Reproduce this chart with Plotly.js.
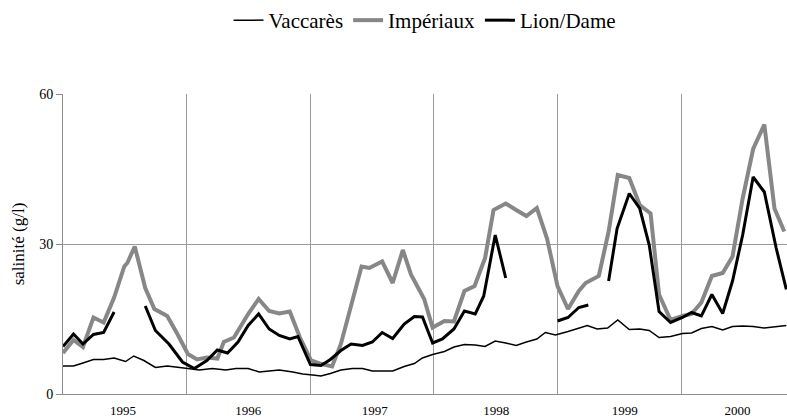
<!DOCTYPE html>
<html>
<head>
<meta charset="utf-8">
<script src="https://cdn.plot.ly/plotly-3.0.1.min.js"></script>
<style>html,body{margin:0;padding:0;background:#fff;}#chart{width:787px;height:420px;}</style>
</head>
<body>
<div id="chart"></div>
<script>
// Vaccarès
var vacDates = ['1995-01-01','1995-02-01','1995-03-01','1995-04-01','1995-05-01','1995-06-01','1995-07-05','1995-07-29','1995-08-28','1995-10-01','1995-11-05','1995-12-05',
  '1996-01-05','1996-02-08','1996-03-17','1996-04-26','1996-05-26','1996-07-01','1996-08-03','1996-09-01','1996-10-01','1996-11-10','1996-12-09',
  '1997-01-08','1997-02-01','1997-03-01','1997-04-01','1997-05-05','1997-06-04','1997-07-03','1997-08-01','1997-09-01','1997-10-05','1997-11-04','1997-11-28','1997-12-28',
  '1998-02-01','1998-03-01','1998-04-01','1998-05-03','1998-06-01','1998-07-01','1998-08-01','1998-09-01','1998-10-01','1998-11-01','1998-11-26','1998-12-26',
  '1999-02-01','1999-03-05','1999-03-30','1999-04-28','1999-05-29','1999-06-28','1999-08-01','1999-09-01','1999-09-29','1999-10-28','1999-12-01',
  '2000-01-05','2000-02-01','2000-03-01','2000-04-01','2000-05-03','2000-06-01','2000-07-01','2000-08-01','2000-09-03','2000-10-08','2000-11-07'];
var vacValues = [5.6,5.6,6.2,6.9,6.9,7.2,6.5,7.6,6.7,5.3,5.6,5.4,
  5.1,4.8,5.1,4.8,5.1,5.1,4.4,4.6,4.8,4.4,4.0,
  3.8,3.6,4.1,4.8,5.1,5.1,4.6,4.6,4.6,5.5,6.1,7.2,7.9,
  8.5,9.4,9.9,9.8,9.5,10.6,10.2,9.7,10.4,11.0,12.3,11.8,
  12.5,13.1,13.7,13.0,13.2,14.8,12.9,13.0,12.7,11.3,11.5,
  12.1,12.2,13.1,13.5,12.8,13.5,13.6,13.5,13.2,13.5,13.7];

// Impériaux
var impDates = ['1995-01-01','1995-02-01','1995-03-01','1995-04-01','1995-05-01','1995-06-01','1995-07-01','1995-07-10','1995-08-01','1995-09-01','1995-09-28','1995-11-05','1995-12-05',
  '1996-01-05','1996-02-01','1996-03-01','1996-04-01','1996-04-20','1996-05-20','1996-07-01','1996-08-01','1996-09-01','1996-10-01','1996-11-01','1996-12-01',
  '1997-01-03','1997-01-28','1997-03-06','1997-04-01','1997-05-01','1997-06-01','1997-06-24','1997-08-01','1997-09-01','1997-10-01','1997-10-25','1997-12-03','1997-12-28',
  '1998-02-01','1998-03-01','1998-04-01','1998-05-01','1998-06-01','1998-06-26','1998-08-01','1998-09-01','1998-10-01','1998-11-01','1998-12-01',
  '1999-01-01','1999-02-01','1999-03-05','1999-03-25','1999-05-03','1999-06-01','1999-06-28','1999-08-01','1999-09-01','1999-10-03','1999-10-28','1999-12-01',
  '2000-01-05','2000-02-01','2000-03-01','2000-04-01','2000-05-03','2000-06-01','2000-07-01','2000-08-01','2000-09-03','2000-10-03','2000-11-01'];
var impValues = [8.2,10.8,9.4,15.3,14.3,19.3,25.5,26.2,29.5,21.2,17.0,15.6,12.0,
  8.0,6.9,7.3,7.1,10.4,11.3,16.0,19.0,16.6,16.1,16.5,11.3,
  6.7,6.1,5.5,10.0,18.0,25.5,25.2,26.5,22.2,28.8,23.9,19.0,13.3,
  14.6,14.5,20.6,21.6,27.2,36.8,38.1,36.8,35.6,37.2,31.1,
  21.6,17.0,20.6,22.2,23.6,32.5,43.8,43.2,37.8,36.1,19.9,14.8,
  15.6,16.0,18.3,23.6,24.2,27.5,39.1,49.0,53.9,37.1,32.5];

// Lion/Dame (null = no measurement)
var lionDates = ['1995-01-01','1995-02-01','1995-03-01','1995-04-01','1995-05-01','1995-06-01','1995-07-15',
  '1995-09-01','1995-10-01','1995-11-10','1995-12-20',
  '1996-01-24','1996-03-01','1996-04-01','1996-05-01','1996-06-01','1996-07-01','1996-08-01','1996-09-01','1996-10-01','1996-11-01','1996-11-25',
  '1997-01-01','1997-02-01','1997-03-01','1997-04-01','1997-05-01','1997-06-04','1997-07-03','1997-08-01','1997-09-01','1997-10-05','1997-11-04','1997-11-28','1997-12-28',
  '1998-01-26','1998-03-01','1998-04-01','1998-05-03','1998-05-28','1998-07-01','1998-08-01','1998-10-15',
  '1999-01-01','1999-02-01','1999-03-05','1999-04-02','1999-05-01',
  '1999-06-01','1999-06-26','1999-08-01','1999-09-01','1999-09-29','1999-10-28','1999-12-01',
  '2000-01-05','2000-02-01','2000-03-01','2000-04-01','2000-05-03','2000-06-01','2000-07-01','2000-08-01','2000-09-03','2000-10-08','2000-11-07'];
var lionValues = [9.5,12.0,10.0,11.9,12.3,16.4,null,
  17.6,12.7,10.0,6.4,
  5.1,6.7,8.8,8.2,10.4,13.7,16.0,13.0,11.7,11.0,11.5,
  5.9,5.7,6.9,8.7,10.0,9.7,10.4,12.3,11.1,14.0,15.5,15.4,10.2,
  11.0,13.0,16.6,16.0,19.6,31.8,23.2,null,
  14.6,15.3,17.3,17.8,null,
  22.6,33.1,40.1,37.1,29.8,16.5,14.3,
  15.3,16.3,15.6,19.9,16.1,22.6,31.8,43.4,40.4,29.2,20.9];

var yearLabelPos = ['1995-06-27','1996-07-01','1997-07-10','1998-07-04','1999-07-19','2000-06-16'];
var yearLabels = ['1995','1996','1997','1998','1999','2000'];
var yearBounds = ['1996-01-01','1997-01-01','1998-01-01','1999-01-01','2000-01-01'];

var serif = 'Liberation Serif, Times New Roman, serif';

var traces = [
  {x: vacDates, y: vacValues, type: 'scatter', mode: 'lines', name: 'Vaccarès',
   line: {color: '#000000', width: 1.5}},
  {x: impDates, y: impValues, type: 'scatter', mode: 'lines', name: 'Impériaux',
   line: {color: '#878787', width: 4}},
  {x: lionDates, y: lionValues, type: 'scatter', mode: 'lines', name: 'Lion/Dame',
   line: {color: '#000000', width: 3}, connectgaps: false}
];

var layout = {
  width: 787, height: 420,
  margin: {l: 63, r: 0, t: 91, b: 26, pad: 0},
  paper_bgcolor: '#ffffff', plot_bgcolor: '#ffffff',
  font: {family: serif, color: '#000000', size: 13},
  showlegend: true,
  legend: {orientation: 'h', x: 0.5, xanchor: 'center', y: 1.245, yanchor: 'middle',
           font: {family: serif, size: 21, color: '#000000'}, itemwidth: 30, tracegroupgap: 0,
           bgcolor: 'rgba(0,0,0,0)'},
  xaxis: {
    type: 'date', range: ['1995-01-01', '2000-11-09'],
    tickmode: 'array', tickvals: yearLabelPos, ticktext: yearLabels,
    ticks: '', showgrid: false, zeroline: false,
    showline: true, linecolor: '#8c8c8c', linewidth: 1,
    tickfont: {family: serif, size: 13, color: '#000000'},
    ticklabelstandoff: 4,
    minor: {tickmode: 'array', tickvals: yearBounds, showgrid: true, gridcolor: '#9a9a9a', gridwidth: 1, ticks: ''},
    automargin: false, fixedrange: true
  },
  yaxis: {
    range: [0, 60], tickmode: 'array', tickvals: [0, 30, 60], ticktext: ['0', '30', '60'],
    ticks: 'outside', ticklen: 6, tickcolor: '#8c8c8c', tickwidth: 1,
    showgrid: true, gridcolor: '#9a9a9a', gridwidth: 1, zeroline: false,
    showline: true, linecolor: '#8c8c8c', linewidth: 1,
    tickfont: {family: serif, size: 14, color: '#000000'},
    title: {text: 'salinité (g/l)', font: {family: serif, size: 17, color: '#000000'}, standoff: 10},
    automargin: false, fixedrange: true
  }
};

Plotly.newPlot('chart', traces, layout, {displayModeBar: false, staticPlot: true});
</script>
</body>
</html>
